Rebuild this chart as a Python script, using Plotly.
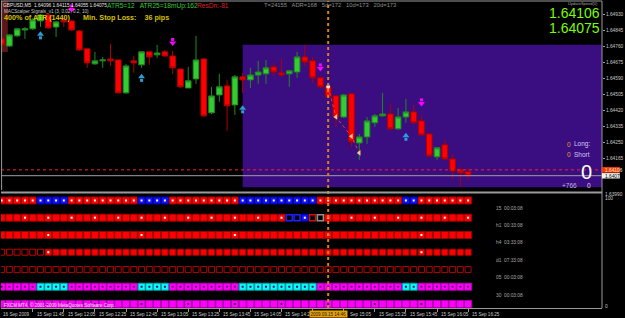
import plotly.graph_objects as go
import pandas as pd

# ---------------- data ----------------
bar_times = pd.date_range("2009-09-15 11:25", periods=61, freq="5min").strftime("%H:%M").tolist()

opens = [1.64802, 1.64764, 1.64818, 1.64849, 1.64855, 1.64897, 1.64929, 1.64865, 1.64903, 1.64897,
         1.64844, 1.64749, 1.64669, 1.64685, 1.64695, 1.64690, 1.64515, 1.64685, 1.64664, 1.64733,
         1.64717, 1.64733, 1.64711, 1.64642, 1.64541, 1.64589, 1.64695, 1.64409, 1.64504, 1.64552,
         1.64451, 1.64600, 1.64584, 1.64610, 1.64616, 1.64653, 1.64621, 1.64616, 1.64626, 1.64706,
         1.64685, 1.64595, 1.64547, 1.64499, 1.64387, 1.64510, 1.64249, 1.64281, 1.64356, 1.64393,
         1.64403, 1.64324, 1.64387, 1.64414, 1.64366, 1.64297, 1.64175, 1.64239, 1.64164, 1.64106,
         1.64096]
highs = [1.64812, 1.64828, 1.64860, 1.64865, 1.64913, 1.64934, 1.64934, 1.64897, 1.64913, 1.64903,
         1.64849, 1.64749, 1.64733, 1.64706, 1.64775, 1.64690, 1.64669, 1.64711, 1.64733, 1.64733,
         1.64770, 1.64743, 1.64738, 1.64642, 1.64653, 1.64818, 1.64701, 1.64547, 1.64616, 1.64584,
         1.64610, 1.64621, 1.64648, 1.64685, 1.64690, 1.64674, 1.64695, 1.64637, 1.64733, 1.64770,
         1.64706, 1.64600, 1.64552, 1.64504, 1.64510, 1.64510, 1.64297, 1.64387, 1.64403, 1.64515,
         1.64456, 1.64435, 1.64483, 1.64451, 1.64398, 1.64302, 1.64228, 1.64265, 1.64191, 1.64122,
         1.64115]
lows = [1.64764, 1.64759, 1.64812, 1.64802, 1.64849, 1.64865, 1.64855, 1.64812, 1.64865, 1.64844,
        1.64738, 1.64648, 1.64664, 1.64648, 1.64658, 1.64510, 1.64510, 1.64621, 1.64648, 1.64664,
        1.64701, 1.64706, 1.64616, 1.64541, 1.64541, 1.64563, 1.64387, 1.64403, 1.64467, 1.64313,
        1.64398, 1.64515, 1.64541, 1.64563, 1.64563, 1.64605, 1.64600, 1.64547, 1.64595, 1.64658,
        1.64568, 1.64541, 1.64488, 1.64334, 1.64382, 1.64228, 1.64159, 1.64244, 1.64334, 1.64387,
        1.64318, 1.64318, 1.64356, 1.64350, 1.64287, 1.64175, 1.64159, 1.64159, 1.64058, 1.64016,
        1.64055]
closes = [1.64770, 1.64823, 1.64855, 1.64855, 1.64903, 1.64929, 1.64860, 1.64892, 1.64892, 1.64849,
          1.64743, 1.64674, 1.64685, 1.64690, 1.64685, 1.64515, 1.64658, 1.64674, 1.64733, 1.64706,
          1.64727, 1.64711, 1.64648, 1.64547, 1.64579, 1.64690, 1.64393, 1.64499, 1.64547, 1.64446,
          1.64600, 1.64584, 1.64610, 1.64626, 1.64648, 1.64626, 1.64610, 1.64632, 1.64706, 1.64679,
          1.64595, 1.64547, 1.64494, 1.64387, 1.64504, 1.64255, 1.64281, 1.64366, 1.64393, 1.64403,
          1.64324, 1.64387, 1.64414, 1.64356, 1.64292, 1.64180, 1.64223, 1.64164, 1.64101, 1.64090,
          1.64075]

ask_price = 1.64106
bid_price = 1.64075

buy_bars = [5, 18, 31, 52]
buy_prices = [1.64818, 1.64592, 1.64425, 1.64279]
sell_bars = [9, 22, 41, 54]
sell_prices = [1.64966, 1.64788, 1.64653, 1.64467]

trail_bars = [42, 43, 45, 46]
trail_prices = [1.64547, 1.64387, 1.64284, 1.64196]

zone_start_bar = 31
zone_low, zone_high = 1.64013, 1.64770
vline_bar = 42

price_ticks = [1.64930, 1.64845, 1.64760, 1.64675, 1.64590, 1.64505, 1.64420, 1.64335, 1.64250, 1.64165]
y_range = [1.63999, 1.65003]
x_range = [-0.08, 77.22]

tick_labels = ["15 Sep 11:45", "15 Sep 12:05", "15 Sep 12:25", "15 Sep 12:45", "15 Sep 13:05",
               "15 Sep 13:25", "15 Sep 13:45", "15 Sep 14:05", "15 Sep 14:25", "15 Sep 14:45",
               "15 Sep 15:05", "15 Sep 15:25", "15 Sep 15:45", "15 Sep 16:05", "15 Sep 16:25"]
cursor_label = "2009.09.15 14:46"

# bottom indicator rows (state per bar)
trend_state = [0, 0, 0, 0, 0, 1, 1, 1, 1, 0, 0, 0, 0, 0, 0, 0, 0, 0, 1, 1, 1, 1, 0, 0, 0, 0, 0, 0, 0, 0, 0,
               1, 1, 1, 1, 1, 1, 1, 1, 1, 1, 0, 0, 0, 0, 0, 0, 0, 0, 0, 0, 0, 1, 1, 0, 0, 0, 0, 0, 0, 0]
m15_state = ["R"] * 37 + ["b", "b", "B", "r", "g"] + ["R"] * 19
m15_marks = [3, 6, 9, 12, 15, 18, 21, 24, 27, 30, 33, 36, 39, 42, 45, 48, 51, 54, 57, 60]
h1_marks = [6, 18, 30, 42, 54]
h4_open_bars = [0, 1, 2, 3, 4, 5]
h4_marks = [6, 54]
m30_marks = [6, 12, 18, 24, 30, 36, 42, 48, 54]
row_levels = [93.5, 78.5, 63.5, 48.5, 33.5, 18.5, 3.5]
row_names = ["15  00:03:08", "h1  00:33:08", "h4  03:33:08", "d1  07:33:08", "05  00:03:08", "30  00:03:08"]

# ---------------- geometry helpers ----------------
PL, PR, PT, PB = 1, 607, 1, 308
TOP_BOTTOM_PX = 190
SUB_TOP_PX = 193
BAR_PX = (PR - PL) / (x_range[1] - x_range[0])


def xp(px):
    return (px - PL) / (PR - PL)


def yp(py):
    return (PB - py) / (PB - PT)


def bar_px(b):
    return PL + (b - x_range[0]) * BAR_PX


ppx = (y_range[1] - y_range[0]) / (TOP_BOTTOM_PX - PT)  # price per pixel
FONT = "Liberation Sans, Arial, sans-serif"
bars = list(range(len(opens)))

fig = go.Figure()

fig.add_trace(go.Candlestick(
    x=bars, open=opens, high=highs, low=lows, close=closes,
    increasing=dict(fillcolor="#33cc33", line=dict(color="#1f8a1f", width=1)),
    decreasing=dict(fillcolor="#ff0000", line=dict(color="#b00000", width=1)),
    whiskerwidth=0, hoverinfo="skip", showlegend=False, xaxis="x", yaxis="y"))

# signal arrows
fig.add_trace(go.Scatter(x=buy_bars, y=[p + 1.5 * ppx for p in buy_prices], mode="markers",
                         marker=dict(symbol="triangle-up", size=6, color="#2a9fd6"), yaxis="y", hoverinfo="skip"))
fig.add_trace(go.Scatter(x=buy_bars, y=[p - 2 * ppx for p in buy_prices], mode="markers",
                         marker=dict(symbol="square", size=3, color="#2a9fd6"), yaxis="y", hoverinfo="skip"))
fig.add_trace(go.Scatter(x=sell_bars, y=[p - 1.5 * ppx for p in sell_prices], mode="markers",
                         marker=dict(symbol="triangle-down", size=6, color="#ff00ff"), yaxis="y", hoverinfo="skip"))
fig.add_trace(go.Scatter(x=sell_bars, y=[p + 2 * ppx for p in sell_prices], mode="markers",
                         marker=dict(symbol="square", size=3, color="#ff00ff"), yaxis="y", hoverinfo="skip"))

# trailing line
fig.add_trace(go.Scatter(x=trail_bars, y=trail_prices, mode="lines",
                         line=dict(color="#ff3030", width=1, dash="dot"), yaxis="y", hoverinfo="skip"))
fig.add_trace(go.Scatter(x=trail_bars[1:], y=trail_prices[1:], mode="markers",
                         marker=dict(symbol="triangle-left", size=5, color="#f0c890"), yaxis="y", hoverinfo="skip"))
fig.add_trace(go.Scatter(x=trail_bars[:1], y=trail_prices[:1], mode="markers",
                         marker=dict(symbol="circle", size=4, color="#f8e0d0"), yaxis="y", hoverinfo="skip"))


def add_marks(xs, level, color, symbol="square", size=7, lcolor=None, lwidth=0):
    if not xs:
        return
    fig.add_trace(go.Scatter(
        x=xs, y=[level] * len(xs), mode="markers", yaxis="y2", hoverinfo="skip",
        marker=dict(symbol=symbol, size=size, color=color,
                    line=dict(color=lcolor or color, width=lwidth))))


# row 1
lv = row_levels[0]
add_marks([b for b in bars if trend_state[b] == 0], lv, "#ff0000", size=7, lcolor="#a00000", lwidth=1)
add_marks([b for b in bars if trend_state[b] == 1], lv, "#1010ff", size=7, lcolor="#0000a0", lwidth=1)
add_marks(bars, lv, "#ffffff", size=2)
# row 2
lv = row_levels[1]
add_marks([b for b in bars if m15_state[b] == "R"], lv, "#ff0000", size=7, lcolor="#a00000", lwidth=1)
add_marks([b for b in bars if m15_state[b] == "B"], lv, "#1010ff", size=7, lcolor="#0000a0", lwidth=1)
add_marks([b for b in bars if m15_state[b] == "b"], lv, "#000000", size=6, lcolor="#2020ff", lwidth=1.5)
add_marks([b for b in bars if m15_state[b] == "r"], lv, "#000000", size=6, lcolor="#d01010", lwidth=1.5)
add_marks([b for b in bars if m15_state[b] == "g"], lv, "#000000", size=6, lcolor="#909090", lwidth=1.5)
add_marks(m15_marks, lv, "#ffffff", size=2)
# row 3
lv = row_levels[2]
add_marks(bars, lv, "#ff0000", size=7, lcolor="#a00000", lwidth=1)
add_marks(h1_marks, lv, "#ffffff", size=2)
# row 4
lv = row_levels[3]
add_marks(h4_open_bars, lv, "#c00000", symbol="square-open", size=6, lwidth=1)
add_marks([b for b in bars if b not in h4_open_bars], lv, "#ff0000", size=6, lcolor="#b00000", lwidth=1)
add_marks(h4_marks, lv, "#ffffff", size=2)
# row 5
lv = row_levels[4]
add_marks(bars, lv, "#b00000", symbol="square-open", size=6, lwidth=1)
# row 6
lv = row_levels[5]
add_marks([b for b in bars if trend_state[b] == 0], lv, "#ff00ff", size=7, lcolor="#b000b0", lwidth=1)
add_marks([b for b in bars if trend_state[b] == 1], lv, "#00ffff", size=7, lcolor="#00a0a0", lwidth=1)
add_marks(bars, lv, "#700070", size=2)
# row 7
lv = row_levels[6]
add_marks(bars, lv, "#ff00ff", size=7, lcolor="#b000b0", lwidth=1)
add_marks(m30_marks, lv, "#500050", size=2)

# ---------------- shapes ----------------
shapes = [
    dict(type="rect", xref="x", yref="y", x0=zone_start_bar, x1=x_range[1] + 5, y0=zone_low, y1=zone_high,
         fillcolor="#3a0d80", line=dict(width=0), layer="below"),
    dict(type="rect", xref="x", yref="paper", x0=-0.3, x1=0.8, y0=yp(52), y1=1,
         fillcolor="#5c1616", line=dict(width=0), layer="below"),
    dict(type="line", xref="paper", yref="y", x0=0, x1=1, y0=ask_price, y1=ask_price,
         line=dict(color="#ff2020", width=1, dash="dot")),
    dict(type="line", xref="paper", yref="y", x0=0, x1=1, y0=bid_price, y1=bid_price,
         line=dict(color="#a0a0a0", width=1)),
    dict(type="line", xref="x", yref="paper", x0=vline_bar, x1=vline_bar, y0=0, y1=1,
         line=dict(color="#d8801c", width=2, dash="dot")),
    dict(type="line", xref="paper", yref="paper", x0=0, x1=1, y0=yp(192.5), y1=yp(192.5),
         line=dict(color="#9a9a9a", width=2)),
    dict(type="line", xref="paper", yref="paper", x0=0, x1=1, y0=1, y1=1,
         line=dict(color="#9a9a9a", width=1)),
    dict(type="line", xref="paper", yref="paper", x0=0.001, x1=0.001, y0=yp(TOP_BOTTOM_PX), y1=1,
         line=dict(color="#9a9a9a", width=1)),
    dict(type="line", xref="paper", yref="paper", x0=1, x1=1, y0=0, y1=1,
         line=dict(color="#9a9a9a", width=1)),
    dict(type="rect", xref="paper", yref="y", x0=1.0, x1=1.0 + 18 / (PR - PL),
         y0=ask_price - 2.8 * ppx, y1=ask_price + 2.8 * ppx, fillcolor="#ff3c00", line=dict(width=0)),
    dict(type="rect", xref="paper", yref="y", x0=1.0, x1=1.0 + 18 / (PR - PL),
         y0=bid_price - 2.8 * ppx, y1=bid_price + 2.6 * ppx, fillcolor="#f0f0f0", line=dict(width=0)),
]

# ---------------- annotations ----------------
ann = []


def txt(px, py, s, size, color, anchor="left", bold=False, **kw):
    d = dict(xref="paper", yref="paper", x=xp(px), y=yp(py), text=("<b>%s</b>" % s) if bold else s,
             showarrow=False, xanchor=anchor, yanchor="middle", borderpad=0,
             font=dict(family=FONT, size=size, color=color))
    d.update(kw)
    ann.append(d)


txt(2, 5, "GBPUSD,M5  1.64096 1.64115 1.64055 1.64075", 4.8, "#e8e8e8")
txt(107, 5.5, "ATR5=12   ATR25=18mUp:162", 6.6, "#33cc33")
txt(198, 5.5, "ResDn:-81", 6.6, "#dd2222")
txt(265, 5, "T=24155   ADR=168   5d=172   10d=173   20d=173", 5.8, "#8c8c8c")
txt(3, 11, "MACScalper Signals_v1 (3, 0.02, 0.2, 10)", 4.6, "#c8c8c8")
txt(3, 17, "400% of ATR (1440)", 7.2, "#d8c000", bold=True)
txt(83, 17, "Min. Stop Loss:    36 pips", 7.2, "#d8c000", bold=True)
txt(604, 3.2, "UpdateSpeed(0)", 4, "#a0a0a0", anchor="right")
txt(606, 12.5, "1.64106", 14, "#7cfc00", anchor="right")
txt(606, 27.5, "1.64075", 14, "#7cfc00", anchor="right")

txt(573.5, 144.3, "0", 6.5, "#e0a030", anchor="center")
txt(578, 144.3, "Long:", 6.5, "#d0c8f8")
txt(573.5, 154.5, "0", 6.5, "#e0a030", anchor="center")
txt(578, 154.5, "Short", 6.5, "#d0c8f8")
txt(591, 171.5, "0", 20, "#ffffff", anchor="center")
txt(574, 185.5, "+766", 6.5, "#c0b0e0", anchor="center")
txt(594, 185.5, "0", 6.5, "#f0c8f0", anchor="center")

for name, py in zip(row_names, [208.3, 225, 242.7, 260.7, 277.7, 295]):
    txt(499, py, name, 4.8, "#a8a8a8")
txt(3, 304.5, "FXCM MT4, © 2001-2009 MetaQuotes Software Corp.", 4.6, "#ffe0ff")

txt(609.5, 170, "1.64106", 4.8, "#ffe8d8")
txt(609.5, 176, "1.64075", 4.8, "#000000")
txt(609.5, 194, "1.63990", 4.8, "#c8c8c8")
txt(609.5, 198.5, "100", 4.8, "#c8c8c8")
txt(609.5, 306, "0", 4.8, "#c8c8c8")

# time axis labels (the cursor box hides "15 Sep 14:45" and the start of "15 Sep 15:05")
tick_pos = []
txt(2, 314.5, "16 Sep 2009", 4.6, "#c8c8c8")
vline_px = bar_px(vline_bar)
CURSOR_HALF = 19.5
for lab in tick_labels:
    pos = bar_times.index(lab[-5:])
    tick_pos.append(pos)
    start_px = bar_px(pos) + 3
    text = lab
    if vline_px - CURSOR_HALF - 24 < start_px < vline_px:
        continue  # fully hidden behind the cursor label
    if vline_px <= start_px < vline_px + CURSOR_HALF + 2:
        text = lab[3:]
        start_px = vline_px + CURSOR_HALF + 1.5
    ann.append(dict(xref="paper", yref="paper", x=xp(start_px), y=yp(314.5), text=text, showarrow=False,
                    xanchor="left", yanchor="middle", borderpad=0,
                    font=dict(family=FONT, size=4.6, color="#c8c8c8")))
ann.append(dict(xref="x", yref="paper", x=vline_bar, y=yp(313.5), text=cursor_label, showarrow=False,
                xanchor="center", yanchor="middle", bgcolor="#e8a000", borderpad=0.5,
                font=dict(family=FONT, size=4.5, color="#202020")))

fig.update_layout(
    width=625, height=318, margin=dict(l=PL, r=625 - PR, t=PT, b=318 - PB),
    paper_bgcolor="black", plot_bgcolor="black", showlegend=False,
    boxgap=0.15, boxgroupgap=0.15,
    xaxis=dict(range=x_range, anchor="y2", showgrid=False, zeroline=False, showline=True,
               linecolor="#9a9a9a", linewidth=1, tickvals=tick_pos, ticks="outside", ticklen=3,
               tickcolor="#9a9a9a", showticklabels=False, rangeslider=dict(visible=False), fixedrange=True),
    yaxis=dict(domain=[yp(TOP_BOTTOM_PX), 1], range=y_range, side="right", showgrid=False, zeroline=False,
               showline=False, tickvals=price_ticks, ticktext=["%.5f" % v for v in price_ticks],
               ticks="outside", ticklen=2, tickcolor="#9a9a9a",
               tickfont=dict(family=FONT, size=4.8, color="#c8c8c8")),
    yaxis2=dict(domain=[0, yp(SUB_TOP_PX)], range=[0, 100], side="right", showgrid=False, zeroline=False,
                showline=False, showticklabels=False, ticks=""),
    shapes=shapes, annotations=ann,
)

fig.write_html("out.html")
